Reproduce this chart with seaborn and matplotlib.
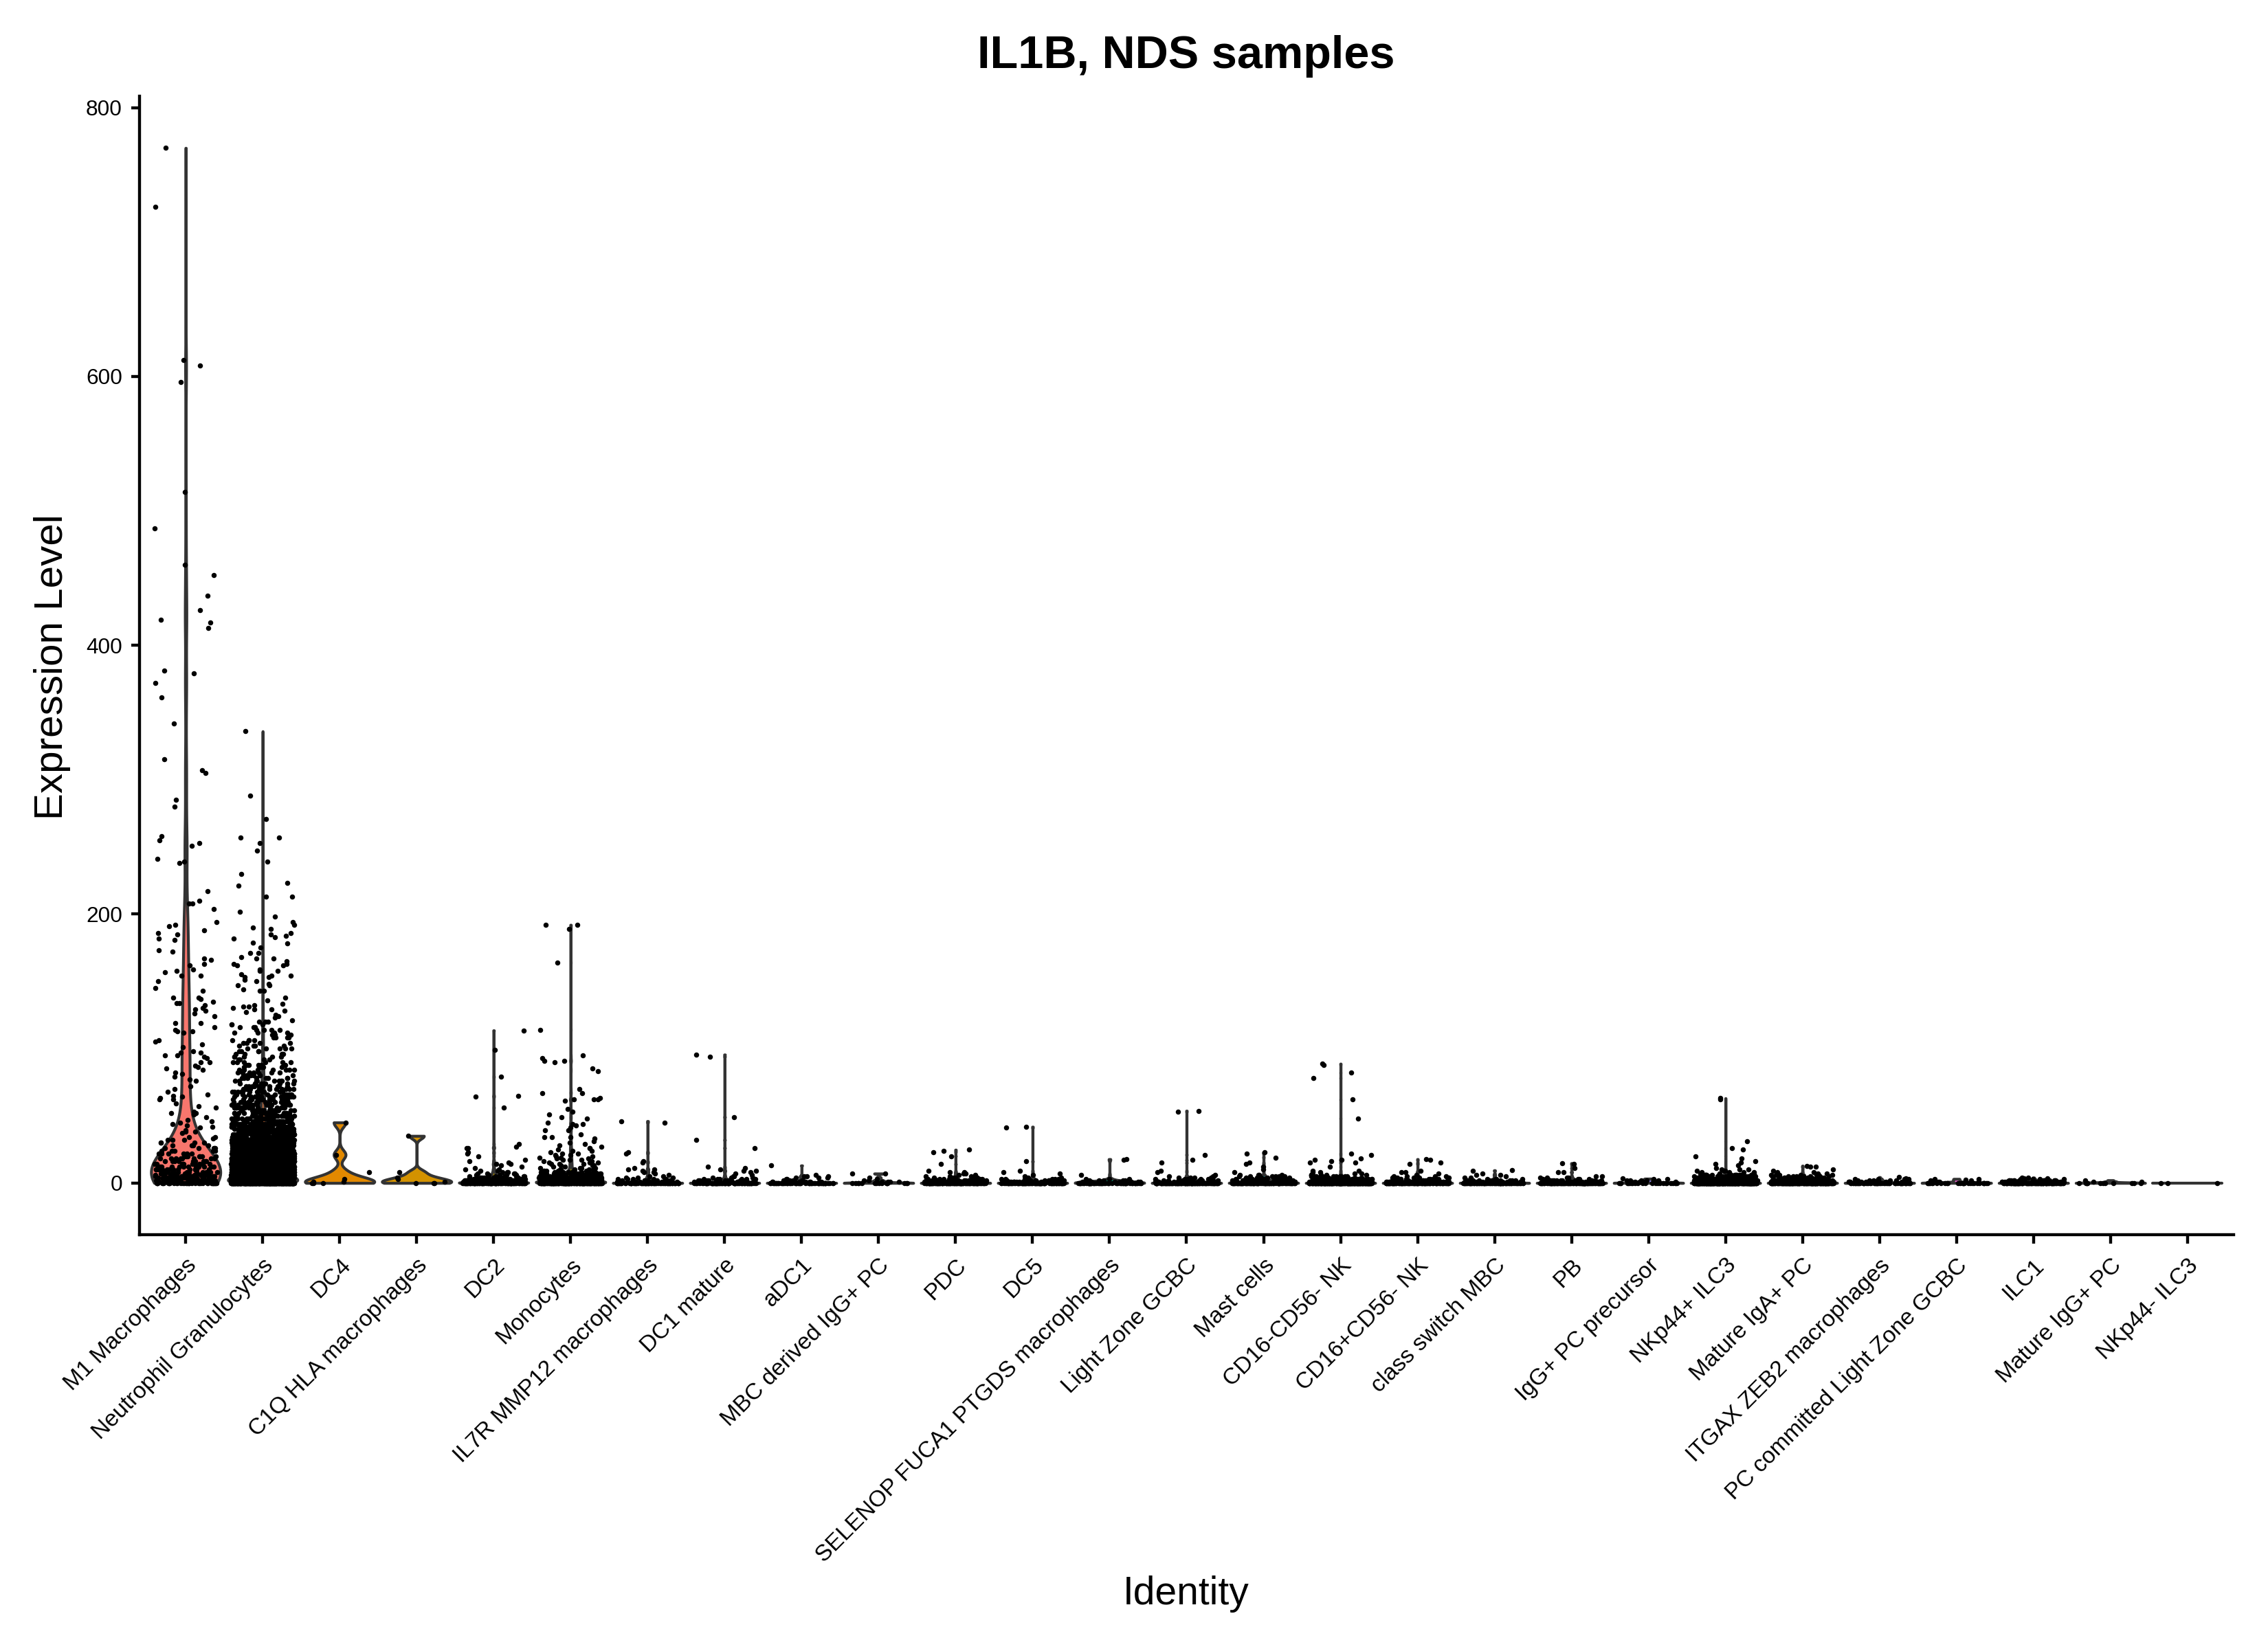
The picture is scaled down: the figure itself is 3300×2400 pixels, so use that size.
import numpy as np
import pandas as pd
import matplotlib
matplotlib.use("Agg")
import matplotlib.pyplot as plt
import seaborn as sns

identities = ["M1 Macrophages", "Neutrophil Granulocytes", "DC4", "C1Q HLA macrophages", "DC2", "Monocytes",
              "IL7R MMP12 macrophages", "DC1 mature", "aDC1", "MBC derived IgG+ PC", "PDC", "DC5",
              "SELENOP FUCA1 PTGDS macrophages", "Light Zone GCBC", "Mast cells", "CD16-CD56- NK", "CD16+CD56- NK",
              "class switch MBC", "PB", "IgG+ PC precursor", "NKp44+ ILC3", "Mature IgA+ PC",
              "ITGAX ZEB2 macrophages", "PC committed Light Zone GCBC", "ILC1", "Mature IgG+ PC", "NKp44- ILC3"]

# Individually readable points (upper tails)
m1_tail = [770, 726, 612, 608, 596, 514, 487, 460, 452, 437, 426, 419, 417, 413, 381, 379, 372, 361, 342, 315, 307,
           305, 285, 280, 258, 255, 253, 251, 241, 239, 238, 217, 210, 208, 208, 204, 194, 192, 191, 188, 186, 185,
           182, 181, 173, 172, 167, 166, 163, 162, 159, 158, 157, 154, 154, 150, 145, 143, 138, 138, 137, 135, 134,
           134, 132, 130, 129, 128, 126, 124, 119, 119, 116, 114, 113, 113, 112, 106, 105, 103, 101, 98, 97, 97, 95,
           95, 94, 93, 90, 90, 87, 86, 85, 84, 82, 81, 79, 77, 76, 72, 70, 68, 66, 65, 64, 63, 62, 62, 59, 57, 56,
           53, 52, 52, 51, 49, 47, 46, 45, 44, 43, 42, 41, 39, 38, 38, 37, 34, 34, 33]
neut_tail = [336, 288, 271, 257, 257, 253, 247, 239, 230, 223, 221, 213, 213, 202, 198, 194, 192, 190, 189, 186, 185,
             184, 183, 182, 179, 178, 175, 171, 171, 168, 167, 167, 165, 163, 163, 162, 162, 159, 158, 158, 155, 154,
             154, 153, 153, 151, 150, 148, 147, 147, 144, 143, 143, 138, 136, 133, 132, 131, 131, 130, 129, 129, 128,
             127, 125, 124, 123, 121]
dc4_tail = [45, 21, 8, 3, 1, 1, 0, 0, 0]
c1q_tail = [35, 8, 4, 3, 1, 0, 0, 0]
dc2_tail = [113.5, 99, 79, 65, 64, 56, 29, 27, 26, 26, 23, 22, 20, 17, 16, 15, 14, 14, 13, 12, 11, 10, 10, 9, 9]
mono_tail = [192, 192, 189, 164, 114, 95, 93, 91, 91, 90, 85, 83, 70, 67, 67, 63, 62, 62, 62, 61, 55, 53, 51, 49, 48,
             45, 44, 44, 43, 41, 39, 39, 36, 34, 34, 34, 33, 31, 30, 29, 28, 27, 26, 26, 25, 24, 24, 23, 22, 22, 21,
             21, 20, 20, 19, 19, 18, 18, 17, 17, 17, 16, 16, 15, 15, 15, 14, 14, 14, 13, 13, 13, 12, 12, 12, 11, 11,
             11, 11, 10, 10, 10, 10, 10, 9, 9, 9, 9, 9]
il7r_tail = [46, 45, 23, 22, 16, 15, 11, 10, 10, 9, 8]
dc1m_tail = [95.5, 94, 49, 32, 26, 12, 11, 10, 9, 9, 8, 7]
adc1_tail = [13, 5, 5, 4, 4]
mbc_tail = [7, 7, 4]
pdc_tail = [24.7, 24, 23, 20, 14, 9, 8, 8, 7, 7, 6, 6, 5]
dc5_tail = [41.8, 41, 16, 9, 8, 7, 6]
selenop_tail = [17.7, 17, 6, 3]
lz_tail = [53.7, 53, 21, 17, 15, 9, 8, 6, 5]
mast_tail = [22.7, 22, 19, 15, 14, 12, 10, 8, 6, 6, 5, 5]
cd16n_tail = [88.7, 88, 82, 78, 62, 48, 22, 21, 18, 17, 17, 16, 15, 15, 12, 9, 9, 8, 8, 7, 7, 6, 6, 6, 5, 5]
cd16p_tail = [17.7, 17, 15, 14, 9, 8, 8, 7, 6, 5, 5, 4, 4]
csm_tail = [9.4, 9, 7, 6, 6, 5]
pb_tail = [14.7, 14, 11, 8, 8, 5, 5]
iggp_tail = [3.2, 3, 3, 2, 2]
nk44p_tail = [63, 62, 31, 26, 25, 20, 18, 16, 15, 14, 13, 11, 10, 10, 10, 9, 9, 9, 8, 8, 8, 8, 7, 7, 7, 7, 6, 6, 6, 6]
iga_tail = [12.8, 12, 12, 10, 9, 8, 8, 7, 7, 6, 6, 6]
itgax_tail = [4.3, 3.5, 3]
pcc_tail = [3, 2.5, 2, 1.5]
ilc1_tail = [4, 4, 3.5, 3.5]
mat_igg_tail = [2, 1, 1]
nk44n_tail = []

# Dense parts near zero: how many cells sit at each level, estimated from the ink
low_levels = [0, 1, 2, 3, 4, 5, 6, 7, 8]
m1_low = [40, 16, 16, 15, 15, 14, 13, 12, 11]
dc2_low = [110, 40, 24, 14, 10, 6, 5, 4, 3]
mono_low = [170, 90, 60, 45, 35, 28, 24, 20, 16]
il7r_low = [80, 18, 8, 5, 3, 2, 1, 1, 1]
dc1m_low = [90, 24, 10, 6, 3, 2, 1]
adc1_low = [60, 12, 5, 2, 1, 1, 1]
mbc_low = [16, 4, 2, 1]
pdc_low = [120, 35, 18, 10, 5, 2]
dc5_low = [100, 26, 12, 6, 3, 1]
selenop_low = [70, 10, 5, 2]
lz_low = [120, 30, 14, 8, 4, 2]
mast_low = [110, 40, 22, 14, 8, 4, 2]
cd16n_low = [220, 90, 40, 24, 14, 8, 3]
cd16p_low = [110, 30, 14, 8, 4, 2]
csm_low = [90, 26, 10, 4, 2]
pb_low = [110, 32, 14, 8, 4]
iggp_low = [24, 8, 3]
nk44p_low = [300, 160, 90, 60, 40, 26, 14]
iga_low = [180, 80, 40, 24, 14, 10, 6]
itgax_low = [60, 18, 6, 3]
pcc_low = [30, 2, 1, 1]
ilc1_low = [110, 40, 14, 5]
mat_igg_low = [12]
nk44n_low = [3]

m1_mid_levels = [10, 12, 14, 16, 18, 20, 22, 24, 26, 28, 30, 32]
m1_mid_counts = [16, 14, 12, 10, 8, 7, 6, 5, 5, 4, 4, 3]

neut_levels = [120, 118, 116, 114, 112, 110, 108, 106, 104, 102, 100, 98, 96, 94, 92, 90, 88, 86, 84, 82, 80, 78, 76,
               74, 72, 70, 68, 66, 64, 62, 60, 58, 56, 54, 52, 50, 48, 46, 44, 42, 40, 38, 36, 34, 32, 30, 28, 26, 24,
               22, 20, 18, 16, 14, 12, 10, 8, 6, 4, 2, 1, 0]
neut_counts = [3, 3, 3, 4, 4, 3, 4, 4, 4, 4, 5, 4, 5, 5, 5, 6, 6, 6, 7, 7, 8, 8, 9, 9, 10, 11, 11, 12, 13, 14, 15,
               16, 18, 19, 21, 23, 26, 29, 32, 36, 40, 46, 52, 60, 70, 80, 95, 110, 120, 130, 140, 150, 160,
               170, 180, 190, 210, 230, 250, 270, 280, 320]

y_ticks = [0, 200, 400, 600, 800]


def stack(tail, low):
    return np.concatenate([np.array(tail, float), np.repeat(low_levels[:len(low)], low).astype(float)])


series = [
    np.concatenate([stack(m1_tail, m1_low), np.repeat(m1_mid_levels, m1_mid_counts).astype(float)]),
    np.concatenate([np.array(neut_tail, float), np.repeat(neut_levels, neut_counts).astype(float)]),
    np.array(dc4_tail, float), np.array(c1q_tail, float),
    stack(dc2_tail, dc2_low), stack(mono_tail, mono_low), stack(il7r_tail, il7r_low), stack(dc1m_tail, dc1m_low),
    stack(adc1_tail, adc1_low), stack(mbc_tail, mbc_low), stack(pdc_tail, pdc_low), stack(dc5_tail, dc5_low),
    stack(selenop_tail, selenop_low), stack(lz_tail, lz_low), stack(mast_tail, mast_low), stack(cd16n_tail, cd16n_low),
    stack(cd16p_tail, cd16p_low), stack(csm_tail, csm_low), stack(pb_tail, pb_low), stack(iggp_tail, iggp_low),
    stack(nk44p_tail, nk44p_low), stack(iga_tail, iga_low), stack(itgax_tail, itgax_low), stack(pcc_tail, pcc_low),
    stack(ilc1_tail, ilc1_low), stack(mat_igg_tail, mat_igg_low), stack(nk44n_tail, nk44n_low),
]
df = pd.concat([pd.DataFrame({"Identity": name, "Expression": vals}) for name, vals in zip(identities, series)],
               ignore_index=True)


def hcl_hex(h, c=100.0, l=65.0):
    """ggplot-style hue palette colour (polar LUV to sRGB)."""
    hr = np.radians(h)
    u, v = c * np.cos(hr), c * np.sin(hr)
    Y = ((l + 16) / 116) ** 3
    un, vn = 0.19784, 0.46834
    up, vp = u / (13 * l) + un, v / (13 * l) + vn
    X = 9 * Y * up / (4 * vp)
    Z = -X / 3 - 5 * Y + 3 * Y / vp
    rgb = np.array([[3.2406, -1.5372, -0.4986], [-0.9689, 1.8758, 0.0415], [0.0557, -0.2040, 1.0570]]) @ [X, Y, Z]
    rgb = np.clip(rgb, 0, 1)
    rgb = np.where(rgb <= 0.0031308, 12.92 * rgb, 1.055 * rgb ** (1 / 2.4) - 0.055)
    return tuple(np.clip(rgb, 0, 1))


palette = [hcl_hex(15 + 360 * i / len(identities)) for i in range(len(identities))]


def nrd0_adjust(v):
    """Ratio of R's default bandwidth rule to the Scott rule used by seaborn."""
    sd = np.std(v, ddof=1) if len(v) > 1 else 0
    if sd == 0:
        return 1.0
    iqr = np.subtract(*np.percentile(v, [75, 25]))
    lo = min(sd, iqr / 1.34)
    if lo == 0:
        lo = sd
    return 0.9 * lo / sd


sns.set_theme(style="ticks")
plt.rcParams["font.family"] = ["Liberation Sans", "DejaVu Sans"]
np.random.seed(11)

fig = plt.figure(figsize=(11, 8), dpi=300)
ax = fig.add_axes([203 / 3300, 1 - 1797 / 2400, (3250 - 203) / 3300, (1797 - 140) / 2400])

for name, colour in zip(identities, palette):
    part = df[df["Identity"] == name]
    sns.violinplot(data=part, x="Identity", y="Expression", order=identities, color=colour, saturation=1,
                   density_norm="width", cut=0, inner=None, width=0.9, gridsize=512, linewidth=1.0,
                   linecolor="#333333", bw_adjust=nrd0_adjust(part["Expression"].to_numpy()), ax=ax)

sns.stripplot(data=df, x="Identity", y="Expression", order=identities, color="black", size=1.8, jitter=0.41,
              linewidth=0, ax=ax, zorder=5)

ax.set_xlim(-0.6, 26.6)
ax.set_ylim(-38.5, 808.5)
ax.set_yticks(y_ticks)
sns.despine(ax=ax)
for s in ("left", "bottom"):
    ax.spines[s].set_linewidth(1.05)
    ax.spines[s].set_color("black")
ax.tick_params(axis="x", length=3, width=1.05, color="black", labelcolor="black", labelsize=8, pad=4)
ax.tick_params(axis="y", length=3, width=1.05, color="black", labelcolor="black", labelsize=7.6, pad=3)
plt.setp(ax.get_xticklabels(), rotation=45, ha="right", va="top", rotation_mode="anchor")
ax.set_xlabel("")
ax.set_ylabel("")
fig.text(1726 / 3300, 1 - 82 / 2400, "IL1B, NDS samples", fontsize=16, fontweight="bold", ha="center", va="center",
         color="black")
fig.text(76 / 3300, 1 - 971 / 2400, "Expression Level", fontsize=14, rotation=90, ha="center", va="center",
         color="black")
fig.text(1726 / 3300, 1 - 2320 / 2400, "Identity", fontsize=13.7, ha="center", va="center", color="black")

fig.savefig("out.png", dpi=300)
